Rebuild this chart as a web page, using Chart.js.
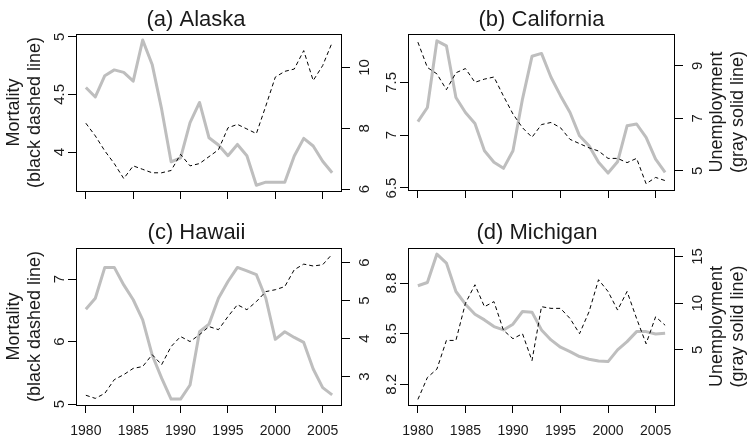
<!DOCTYPE html>
<html>
<head>
<meta charset="utf-8">
<script src="https://cdn.jsdelivr.net/npm/chart.js@4"></script>
<style>
    body { margin: 0; background: #fff; }
    #wrap { position: relative; width: 750px; height: 440px; }
    canvas { position: absolute; }
</style>
</head>
<body>
<div id="wrap">
    <canvas id="c0" width="375" height="215" style="left:0;top:0"></canvas>
    <canvas id="c1" width="375" height="215" style="left:375px;top:0"></canvas>
    <canvas id="c2" width="375" height="225" style="left:0;top:215px"></canvas>
    <canvas id="c3" width="375" height="225" style="left:375px;top:215px"></canvas>
</div>
<script>
// Data
const years = [1980, 1981, 1982, 1983, 1984, 1985, 1986, 1987, 1988, 1989, 1990, 1991, 1992, 1993,
               1994, 1995, 1996, 1997, 1998, 1999, 2000, 2001, 2002, 2003, 2004, 2005, 2006];
const xTicks = [1980, 1985, 1990, 1995, 2000, 2005];

const alaskaMortality = [4.25, 4.14, 4.01, 3.90, 3.77, 3.88, 3.85, 3.82, 3.82, 3.84, 3.98, 3.88, 3.90, 3.96,
                         4.02, 4.21, 4.24, 4.20, 4.16, 4.40, 4.65, 4.70, 4.72, 4.88, 4.62, 4.75, 4.95];
const alaskaUnemployment = [9.34, 9.03, 9.73, 9.92, 9.84, 9.55, 10.9, 10.1, 8.63, 6.90, 7.03, 8.19, 8.85, 7.69,
                            7.45, 7.10, 7.47, 7.10, 6.13, 6.23, 6.23, 6.23, 7.09, 7.67, 7.42, 6.92, 6.54];

const californiaMortality = [7.88, 7.64, 7.58, 7.43, 7.59, 7.63, 7.50, 7.53, 7.55, 7.37, 7.20, 7.07, 6.98, 7.10,
                             7.12, 7.07, 6.96, 6.92, 6.88, 6.85, 6.78, 6.78, 6.74, 6.78, 6.54, 6.60, 6.57];
const californiaUnemployment = [6.87, 7.41, 9.95, 9.76, 7.79, 7.22, 6.80, 5.76, 5.32, 5.09, 5.76, 7.73, 9.36, 9.47,
                                8.56, 7.86, 7.22, 6.33, 5.95, 5.32, 4.91, 5.34, 6.71, 6.78, 6.27, 5.44, 4.94];

const hawaiiMortality = [5.14, 5.09, 5.17, 5.39, 5.47, 5.57, 5.60, 5.79, 5.63, 5.92, 6.08, 6.00, 6.11, 6.24,
                         6.19, 6.40, 6.59, 6.51, 6.64, 6.80, 6.83, 6.88, 7.15, 7.24, 7.21, 7.23, 7.40];
const hawaiiUnemployment = [4.77, 5.06, 5.87, 5.87, 5.41, 5.02, 4.49, 3.57, 2.96, 2.41, 2.41, 2.78, 4.18, 4.38,
                            5.06, 5.50, 5.87, 5.78, 5.68, 5.06, 3.98, 4.18, 4.03, 3.90, 3.20, 2.71, 2.52];

const michiganMortality = [8.11, 8.24, 8.29, 8.46, 8.46, 8.68, 8.79, 8.66, 8.69, 8.52, 8.47, 8.50, 8.34, 8.66,
                           8.65, 8.65, 8.59, 8.50, 8.63, 8.82, 8.75, 8.64, 8.75, 8.59, 8.44, 8.60, 8.55];
const michiganUnemployment = [11.86, 12.21, 15.25, 14.29, 11.25, 9.89, 8.82, 8.21, 7.50, 7.14, 7.75, 9.11, 9.04, 7.14,
                              6.07, 5.29, 4.82, 4.29, 4.00, 3.82, 3.75, 5.00, 5.89, 6.96, 6.96, 6.71, 6.79];

const panelTitles = ['(a) Alaska', '(b) California', '(c) Hawaii', '(d) Michigan'];
const leftTicks = [[4, 4.5, 5], [6.5, 7, 7.5], [5, 6, 7], [8.2, 8.5, 8.8]];
const rightTicks = [[6, 8, 10], [5, 7, 9], [3, 4, 5, 6], [5, 10, 15]];

const FONT = "'Liberation Sans', Arial, Helvetica, sans-serif";
const TEXT = '#1a1a1a';

// Layout of each panel inside its canvas
const panels = [
    { id: 'c0', mort: alaskaMortality, unemp: alaskaUnemployment,
      left: [3.662, 5.024], right: [5.94, 11.1],
      top: 34, leftW: 76, rightW: 33, bottomH: 24,
      titleX: 196, titleY: 25.5, showX: false, leftTitle: true, rightTitle: false },
    { id: 'c1', mort: californiaMortality, unemp: californiaUnemployment,
      left: [6.481, 7.957], right: [4.265, 10.21],
      top: 34, leftW: 33, rightW: 75, bottomH: 25,
      titleX: 166.5, titleY: 25.5, showX: false, leftTitle: false, rightTitle: true },
    { id: 'c2', mort: hawaiiMortality, unemp: hawaiiUnemployment,
      left: [4.984, 7.498], right: [2.255, 6.38],
      top: 33, leftW: 76, rightW: 33, bottomH: 35,
      titleX: 196.5, titleY: 24, showX: true, leftTitle: true, rightTitle: false },
    { id: 'c3', mort: michiganMortality, unemp: michiganUnemployment,
      left: [8.077, 9.008], right: [-0.89, 15.9],
      top: 33, leftW: 33, rightW: 75, bottomH: 35,
      titleX: 162, titleY: 24, showX: true, leftTitle: false, rightTitle: true }
];

// Text drawn rotated, reading bottom to top; x is the baseline position
function vText(ctx, text, x, y) {
    ctx.save();
    ctx.translate(x, y);
    ctx.rotate(-Math.PI / 2);
    ctx.textAlign = 'center';
    ctx.textBaseline = 'alphabetic';
    ctx.fillText(text, 0, 0);
    ctx.restore();
}

const decorPlugin = {
    id: 'decor',
    afterDraw(chart, args, opts) {
        const p = opts.panel;
        const idx = opts.index;
        const ctx = chart.ctx;
        const a = chart.chartArea;

        // plot box
        ctx.save();
        ctx.strokeStyle = '#000';
        ctx.lineWidth = 1;
        ctx.strokeRect(Math.round(a.left) + 0.5, Math.round(a.top) + 0.5,
                       Math.round(a.right - a.left) - 1, Math.round(a.bottom - a.top));

        ctx.fillStyle = TEXT;
        // panel title
        ctx.font = '22px ' + FONT;
        ctx.textAlign = 'center';
        ctx.textBaseline = 'alphabetic';
        ctx.fillText(panelTitles[idx], p.titleX, p.titleY);

        // x tick labels (bottom row only)
        if (p.showX) {
            ctx.font = '14px ' + FONT;
            const xs = chart.scales.x;
            xTicks.forEach(v => ctx.fillText(String(v), xs.getPixelForValue(v), a.bottom + 29.5));
        }

        // y tick labels
        ctx.font = '15px ' + FONT;
        const yl = chart.scales.y;
        leftTicks[idx].forEach(v => vText(ctx, String(v), a.left - 12, yl.getPixelForValue(v)));
        const yr = chart.scales.y1;
        rightTicks[idx].forEach(v => vText(ctx, String(v), a.right + 27, yr.getPixelForValue(v)));

        // axis titles
        ctx.font = '18px ' + FONT;
        const midY = (a.top + a.bottom) / 2;
        if (p.leftTitle) {
            vText(ctx, 'Mortality', 18.5, midY);
            vText(ctx, '(black dashed line)', 39.5, midY);
        }
        if (p.rightTitle) {
            vText(ctx, 'Unemployment', a.right + 47, midY);
            vText(ctx, '(gray solid line)', a.right + 68, midY);
        }
        ctx.restore();
    }
};

function tickGrid() {
    return { display: true, drawOnChartArea: false, drawTicks: true, tickLength: 8, color: '#000', lineWidth: 1 };
}

function buildPanel(p, idx) {
    const ctx = document.getElementById(p.id);
    new Chart(ctx, {
        type: 'line',
        data: {
            datasets: [
                {
                    label: 'Mortality',
                    data: years.map((yr, i) => ({ x: yr, y: p.mort[i] })),
                    yAxisID: 'y',
                    borderColor: '#000',
                    borderWidth: 1,
                    borderDash: [4, 3],
                    pointRadius: 0,
                    tension: 0,
                    fill: false
                },
                {
                    label: 'Unemployment',
                    data: years.map((yr, i) => ({ x: yr, y: p.unemp[i] })),
                    yAxisID: 'y1',
                    borderColor: '#bebebe',
                    borderWidth: 3,
                    borderJoinStyle: 'round',
                    pointRadius: 0,
                    tension: 0,
                    fill: false
                }
            ]
        },
        options: {
            responsive: false,
            animation: false,
            events: [],
            layout: { padding: { top: p.top, left: 0, right: 0, bottom: 0 } },
            plugins: {
                legend: { display: false },
                tooltip: { enabled: false },
                decor: { panel: p, index: idx }
            },
            scales: {
                x: {
                    type: 'linear',
                    min: 1978.96,
                    max: 2007.04,
                    afterBuildTicks: s => { s.ticks = xTicks.map(v => ({ value: v })); },
                    afterFit: s => { s.height = p.bottomH; },
                    grid: tickGrid(),
                    border: { display: false },
                    ticks: { display: false }
                },
                y: {
                    type: 'linear',
                    position: 'left',
                    min: p.left[0],
                    max: p.left[1],
                    afterBuildTicks: s => { s.ticks = leftTicks[idx].map(v => ({ value: v })); },
                    afterFit: s => { s.width = p.leftW; },
                    grid: tickGrid(),
                    border: { display: false },
                    ticks: { display: false }
                },
                y1: {
                    type: 'linear',
                    position: 'right',
                    min: p.right[0],
                    max: p.right[1],
                    afterBuildTicks: s => { s.ticks = rightTicks[idx].map(v => ({ value: v })); },
                    afterFit: s => { s.width = p.rightW; },
                    grid: tickGrid(),
                    border: { display: false },
                    ticks: { display: false }
                }
            }
        },
        plugins: [decorPlugin]
    });
}

panels.forEach((p, i) => buildPanel(p, i));
</script>
</body>
</html>
